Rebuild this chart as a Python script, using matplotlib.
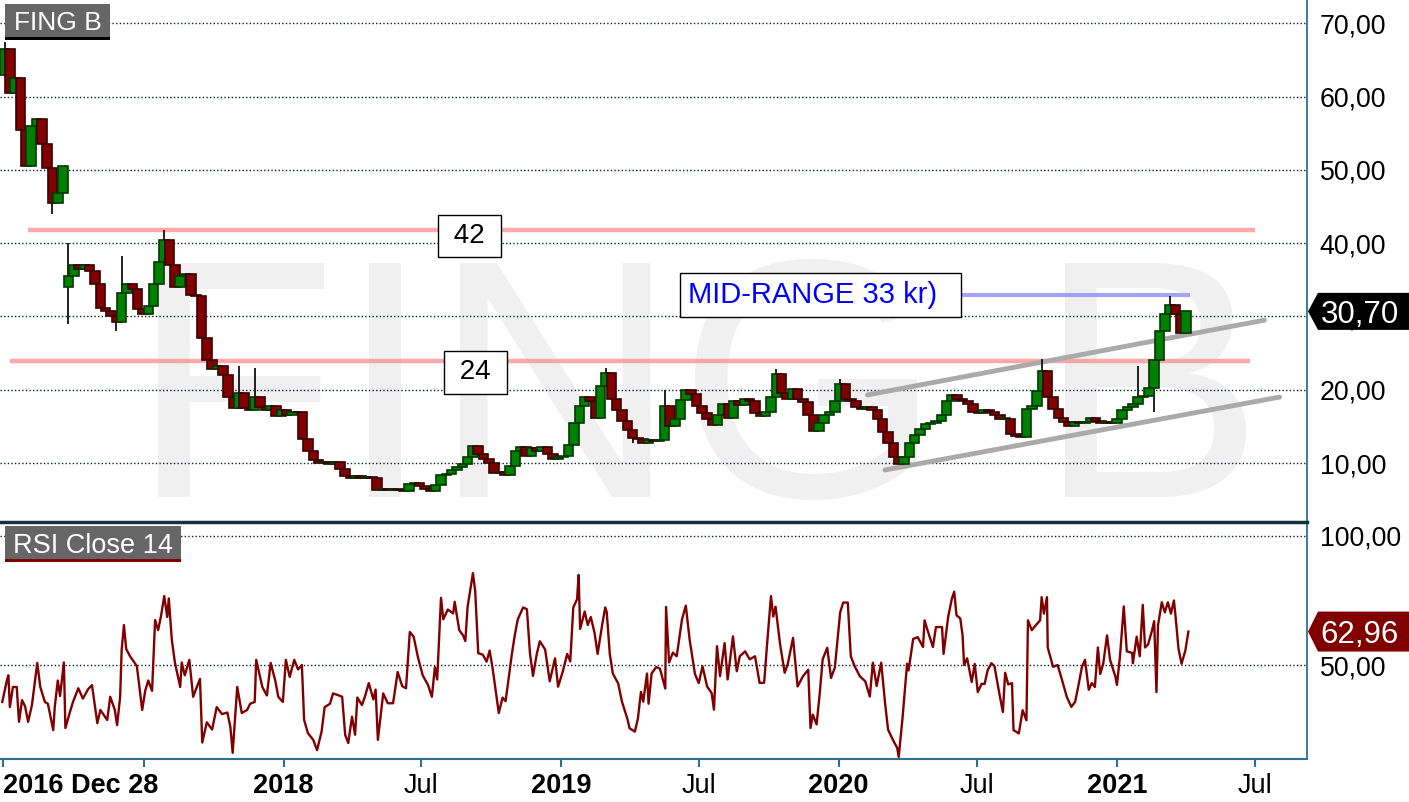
import numpy as np
import matplotlib
matplotlib.use('Agg')
import matplotlib.pyplot as plt
import matplotlib.dates as mdates
from matplotlib.patches import Polygon, Rectangle

plt.rcParams['font.family'] = ['Liberation Sans', 'DejaVu Sans']

# weekly closes (first candle 2016-12-30, then every 7 days)
first_week = '2016-12-30'
closes = [
    66.5, 60.5, 62.5, 55.5, 50.5, 56.0, 57.0, 53.5, 50.3, 45.5,
    46.8, 50.5, 35.5, 37.0, 36.5, 37.0, 36.2, 34.5, 31.2, 30.8,
    30.0, 29.2, 33.2, 34.5, 33.8, 31.0, 30.3, 31.5, 34.5, 37.5,
    40.5, 37.0, 34.0, 35.5, 35.8, 33.0, 32.8, 27.0, 24.0, 22.8,
    23.2, 22.0, 19.0, 17.5, 19.5, 17.5, 17.3, 19.0, 17.6, 17.2,
    17.8, 16.4, 17.3, 16.6, 17.0, 16.9, 13.3, 11.6, 10.4, 10.0,
    10.2, 9.9, 10.1, 9.2, 8.2, 8.0, 8.2, 8.0, 8.1, 7.9,
    6.3, 6.4, 6.3, 6.4, 6.3, 6.2, 7.2, 7.3, 6.9, 6.4,
    6.2, 7.0, 8.3, 8.5, 9.0, 9.4, 9.8, 10.8, 12.3, 11.2,
    10.6, 10.0, 8.6, 8.8, 8.3, 9.6, 11.6, 12.2, 11.0, 12.0,
    11.6, 12.2, 11.2, 10.6, 10.8, 11.0, 12.5, 15.5, 17.8, 19.0,
    18.5, 16.2, 20.5, 22.3, 18.8, 17.2, 15.8, 14.5, 13.4, 13.3,
    12.8, 13.1, 13.0, 13.1, 17.8, 15.0, 16.0, 18.6, 20.0, 19.4,
    17.8, 16.8, 16.0, 15.2, 16.5, 18.0, 16.2, 18.4, 17.9, 18.8,
    18.4, 16.8, 16.4, 17.0, 19.0, 22.2, 19.5, 18.7, 20.1, 18.8,
    18.3, 16.5, 14.4, 15.4, 16.5, 17.0, 18.5, 20.8, 18.8, 18.4,
    17.7, 17.4, 17.6, 17.3, 16.0, 14.2, 12.8, 10.8, 9.9, 10.8,
    12.8, 13.8, 14.6, 15.3, 15.5, 15.8, 16.5, 18.4, 19.3, 18.8,
    18.5, 18.0, 17.0, 16.8, 17.2, 17.0, 16.5, 16.0, 16.0, 14.0,
    13.7, 13.5, 17.4, 17.8, 19.8, 22.5, 19.0, 17.4, 16.2, 15.6,
    15.0, 15.6, 15.4, 15.6, 16.1, 15.7, 15.5, 15.6, 15.4, 16.0,
    17.3, 17.6, 18.0, 19.0, 19.2, 20.2, 24.0, 28.0, 30.4, 31.6,
    30.3, 27.7, 30.70,
]
# opens that do not follow the previous close (gaps)
gap_opens = {0: 63.0, 12: 34.0}
# long wicks
wick_highs = {0: 67.5, 12: 40.0, 22: 38.2, 30: 41.8, 44: 23.2, 47: 23.0, 113: 23.0,
              124: 20.0, 145: 22.8, 157: 21.5, 195: 24.2, 213: 23.3, 219: 32.8}
wick_lows = {9: 44.0, 12: 29.0, 21: 28.0, 118: 12.8, 216: 17.0}

# RSI(14), days after 2016-12-28
rsi_start = '2016-12-28'
rsi_days = [
    -1, 5, 7, 9, 13, 18, 21, 25, 29, 33,
    38, 45, 49, 55, 59, 66, 68, 72, 75, 80,
    82, 88, 92, 99, 105, 112, 117, 124, 128, 137,
    141, 147, 150, 154, 156, 159, 162, 167, 176, 183,
    187, 191, 196, 200, 204, 208, 212, 216, 218, 222,
    226, 233, 235, 239, 245, 250, 255, 259, 262, 268,
    275, 281, 288, 295, 299, 302, 308, 314, 321, 325,
    331, 333, 341, 347, 352, 358, 362, 368, 372, 377,
    383, 388, 393, 396, 401, 408, 413, 419, 423, 430,
    434, 441, 446, 450, 454, 459, 463, 466, 472, 476,
    481, 487, 490, 493, 500, 506, 513, 519, 525, 530,
    535, 540, 546, 552, 559, 564, 568, 571, 576, 579,
    585, 592, 594, 600, 605, 608, 611, 618, 621, 625,
    631, 636, 640, 644, 652, 657, 661, 669, 673, 677,
    684, 689, 693, 697, 702, 706, 713, 719, 726, 730,
    736, 742, 746, 750, 755, 757, 759, 765, 769, 773,
    778, 782, 788, 792, 794, 798, 802, 809, 814, 821,
    824, 831, 835, 839, 842, 847, 849, 853, 859, 864,
    871, 872, 876, 881, 886, 893, 898, 903, 910, 915,
    920, 926, 932, 935, 939, 943, 949, 953, 960, 965,
    969, 976, 982, 989, 995, 1001, 1005, 1010, 1013, 1016,
    1022, 1028, 1032, 1039, 1045, 1052, 1059, 1062, 1065, 1070,
    1074, 1078, 1084, 1089, 1094, 1101, 1105, 1111, 1115, 1120,
    1127, 1134, 1140, 1144, 1149, 1155, 1160, 1164, 1170, 1176,
    1178, 1183, 1189, 1191, 1197, 1203, 1210, 1212, 1216, 1223,
    1227, 1235, 1237, 1243, 1248, 1251, 1254, 1259, 1262, 1264,
    1268, 1274, 1278, 1282, 1287, 1291, 1295, 1300, 1304, 1310,
    1315, 1318, 1322, 1327, 1329, 1336, 1341, 1346, 1348, 1353,
    1360, 1364, 1366, 1369, 1373, 1374, 1381, 1387, 1393, 1399,
    1405, 1410, 1414, 1419, 1423, 1428, 1432, 1436, 1440, 1443,
    1447, 1452, 1456, 1463, 1465, 1469, 1474, 1478, 1485, 1486,
    1491, 1495, 1499, 1502, 1506, 1511, 1514, 1517, 1519, 1524,
    1528, 1532, 1536, 1540, 1542, 1546, 1550, 1555, 1559,
]
rsi_vals = [
    35.7, 44, 46, 33.7, 41.5, 41.5, 28, 36.4, 34, 28,
    34.5, 50.8, 41.5, 35.7, 35, 24.8, 33.7, 44, 38, 51,
    25.6, 31.8, 35.7, 41, 37, 40.7, 42.2, 27.5, 32.6, 28.7,
    37.7, 32.6, 26.7, 37.7, 55.8, 65.5, 56.2, 53.4, 49.6, 32.6,
    40, 44, 40, 67.4, 63.5, 69.4, 76.7, 68.6, 75.8, 59.7,
    51, 41.5, 51, 46, 52, 37.7, 41.5, 44.6, 20, 27.8,
    25, 33.7, 31, 31.6, 26, 16, 41.5, 31.4, 32.6, 35,
    35.7, 52, 41.5, 38.2, 50.8, 44, 37.7, 35.7, 52, 45.4,
    52, 48.3, 50, 28.7, 23.6, 21, 17, 24.3, 33.7, 35,
    39, 38.3, 37.7, 22.9, 19.8, 30, 23, 37.4, 34.5, 37.8,
    43, 36.7, 40.5, 21, 39, 35.2, 35.2, 47.3, 41.8, 41,
    62.8, 61, 52.6, 46, 42.2, 37.7, 49.2, 44.4, 76, 67.7,
    71.5, 70, 74.5, 63.5, 61.5, 59.3, 72.5, 85.6, 78.6, 54.6,
    54, 51.3, 55.6, 48.5, 31.4, 37.4, 36, 53.8, 61.5, 67.7,
    72.3, 71.6, 54.6, 45.8, 54.3, 59.2, 56, 43.7, 52.6, 41.6,
    47.3, 54.3, 51.4, 72.3, 75.5, 84.9, 64, 70.7, 65.5, 68.6,
    62.4, 54.3, 65.6, 72.3, 70.5, 54.3, 46.7, 42.9, 35.8, 29.3,
    25.5, 24.2, 29.3, 39.6, 35.8, 46.7, 35, 46.7, 49.2, 48.6,
    40.9, 72.5, 51, 54.8, 53.4, 67.7, 73, 59.9, 46.5, 43,
    49.5, 41.7, 39.1, 32.7, 57.3, 45.7, 58.5, 44.4, 61.1, 47.6,
    53.4, 55.3, 52.2, 53.4, 43.1, 43.1, 58.5, 76.7, 68.8, 72.6,
    58, 47, 50.3, 60.5, 41.7, 45.6, 48.2, 25.6, 30.8, 27,
    38.6, 52.2, 56.7, 45, 49, 70.4, 74.2, 74.2, 53.4, 49.6,
    45.6, 43.7, 37.8, 50.9, 41.9, 50.9, 35.4, 25, 21.2, 17.9,
    14.4, 29.4, 50.5, 47.9, 60.1, 60.8, 57, 67.3, 63.4, 57,
    64.7, 64.7, 54.3, 68.6, 75.8, 78.4, 69.3, 68, 61.5, 50,
    52.6, 43.4, 50.4, 39.5, 42.7, 42.7, 48, 50.7, 49.5, 39.5,
    31.8, 47, 42.5, 43, 24.8, 23.5, 32.5, 28.6, 67.3, 63.5,
    66, 67.3, 76.3, 69.9, 76.3, 56.8, 49.3, 50, 44, 37.7,
    33.8, 35.7, 41.5, 49.3, 52, 40.4, 43, 41.5, 56.8, 46.5,
    50.5, 61.5, 52, 45.5, 42.3, 53.3, 72.7, 55.3, 54.7, 50.7,
    61, 53.4, 73.3, 56.8, 58, 63.2, 67, 39.5, 65.3, 74.3,
    70.4, 74.3, 69.9, 75, 69.2, 56.3, 50.5, 55.6, 62.96,
]

# drawn levels and channel
level_prices = [41.8, 23.9]
level_starts = ['2017-01-30', '2017-01-06']
level_ends = ['2021-07-01', '2021-06-25']
level_labels = ['42', '24']
level_label_at = [('2018-09-02', 41.0), ('2018-09-10', 22.4)]
mid_price = 32.9
mid_span = ['2020-06-11', '2021-04-07']
mid_label = 'MID-RANGE 33 kr)'
mid_label_at = ('2019-12-08', 32.9)
chan_upper = [('2020-02-08', 19.3), ('2021-07-14', 29.5)]
chan_lower = [('2020-03-02', 9.05), ('2021-08-03', 19.0)]

price_ticks = [10, 20, 30, 40, 50, 60, 70]
rsi_ticks = [50, 100]
x_tick_dates = ['2016-12-28', '2017-07-01', '2018-01-01', '2018-07-01', '2019-01-01',
                '2019-07-01', '2020-01-01', '2020-07-01', '2021-01-01', '2021-07-01']
x_tick_labels = ['2016 Dec 28', '', '2018', 'Jul', '2019', 'Jul', '2020', 'Jul', '2021', 'Jul']


def num(d):
    return mdates.date2num(np.datetime64(d))


def fmt(v):
    return f'{v:.2f}'.replace('.', ',')


c = np.array(closes)
o = np.r_[c[0], c[:-1]]
for k, v in gap_opens.items():
    o[k] = v
hi = np.maximum(o, c)
lo = np.minimum(o, c)
for k, v in wick_highs.items():
    hi[k] = v
for k, v in wick_lows.items():
    lo[k] = v
wk = np.datetime64(first_week) + (7 * np.arange(len(c))).astype('timedelta64[D]')
xd = mdates.date2num(wk)
rx = mdates.date2num(np.datetime64(rsi_start) + np.array(rsi_days).astype('timedelta64[D]'))

W, H = 1409, 802
fig = plt.figure(figsize=(W / 100, H / 100), dpi=100)
ax = fig.add_axes([0, 280 / H, 1307 / W, 522 / H])
ax2 = fig.add_axes([0, 43 / H, 1307 / W, 237 / H])

xlim = (num('2016-12-24'), num('2021-09-08'))
frame_col = '#2f6f8f'

# ---- price panel
ax.text(0.533, 0.048, 'FING B', transform=ax.transAxes, ha='center', va='baseline',
        fontsize=245, color='#f0f0f0', zorder=0)
ax.grid(axis='y', color='#0d1f2d', linestyle=(0, (1, 1.6)), lw=1, zorder=1)

for p, s, e in zip(level_prices, level_starts, level_ends):
    ax.hlines(p, num(s), num(e), color='#ff9a9a', lw=3.2, alpha=0.85, zorder=2)
ax.hlines(mid_price, num(mid_span[0]), num(mid_span[1]), color='#9a9aff', lw=3.0, alpha=0.9, zorder=2)
for ch in (chan_upper, chan_lower):
    ax.plot([num(d) for d, _ in ch], [v for _, v in ch], color='#aaaaaa', lw=3.5,
            solid_capstyle='round', zorder=2)

up = c >= o
body_col = np.where(up, '#008000', '#800000')
edge_col = np.where(up, '#003800', '#3a0000')
ax.vlines(xd, lo, hi, color='#111111', lw=1.3, zorder=3)
ax.bar(xd, np.maximum(np.abs(c - o), 0.12), bottom=np.minimum(o, c), width=12.5,
       color=body_col, edgecolor=edge_col, lw=1.2, zorder=4)

for txt, (d, v) in zip(level_labels, level_label_at):
    ax.text(num(d), v, ' ' + txt + ' ', fontsize=20, ha='center', va='center', zorder=6,
            bbox=dict(boxstyle='square,pad=0.3', fc='white', ec='black', lw=1))
ax.text(num(mid_label_at[0]), mid_label_at[1], mid_label + '  ', fontsize=21, color='#0000ff',
        ha='center', va='center', zorder=6,
        bbox=dict(boxstyle='square,pad=0.28', fc='white', ec='black', lw=1))

ax.set_xlim(xlim)
ax.set_ylim(1.95, 73.2)
ax.set_yticks(price_ticks)
ax.set_yticklabels([fmt(v) for v in price_ticks])
ax.yaxis.tick_right()
ax.tick_params(axis='y', length=0, pad=9, labelsize=19.3)
ax.tick_params(axis='x', bottom=False, labelbottom=False)
for s in ('left', 'top', 'bottom'):
    ax.spines[s].set_visible(False)
ax.spines['right'].set_color(frame_col)
ax.spines['right'].set_linewidth(1.3)

# ---- RSI panel
ax2.grid(axis='y', color='#0d1f2d', linestyle=(0, (1, 1.6)), lw=1, zorder=1)
ax2.plot(rx, rsi_vals, color='#800000', lw=1.7, zorder=3)
ax2.set_xlim(xlim)
ax2.set_ylim(13.6, 105.4)
ax2.set_yticks(rsi_ticks)
ax2.set_yticklabels([fmt(v) for v in rsi_ticks])
ax2.yaxis.tick_right()
ax2.tick_params(axis='y', length=0, pad=9, labelsize=19.3)
ax2.set_xticks([num(d) for d in x_tick_dates])
ax2.set_xticklabels(x_tick_labels)
ax2.tick_params(axis='x', direction='out', length=6, width=1.5, color=frame_col,
                labelsize=19.5, pad=4)
for lab in ax2.get_xticklabels():
    if lab.get_text() != 'Jul':
        lab.set_fontweight('bold')
ax2.get_xticklabels()[0].set_ha('left')
ax2.spines['left'].set_visible(False)
ax2.spines['right'].set_color(frame_col)
ax2.spines['right'].set_linewidth(1.3)
ax2.spines['bottom'].set_color(frame_col)
ax2.spines['bottom'].set_linewidth(1.5)
ax2.spines['top'].set_color('#17323f')
ax2.spines['top'].set_linewidth(2.5)


# ---- title boxes and last-value tags (pixel placement)
def px_rect(x0, y0, x1, y1, color):
    fig.add_artist(Rectangle((x0 / W, 1 - y1 / H), (x1 - x0) / W, (y1 - y0) / H,
                             transform=fig.transFigure, fc=color, ec='none', zorder=10))


px_rect(5, 4, 110, 37, '#666666')
px_rect(5, 37, 110, 40, '#000000')
fig.text(57.5 / W, 1 - 21 / H, 'FING B', color='white', fontsize=19, ha='center',
         va='center_baseline', zorder=11)
px_rect(5, 526, 181, 559, '#666666')
px_rect(5, 559, 181, 562, '#800000')
fig.text(93 / W, 1 - 543 / H, 'RSI Close 14', color='white', fontsize=19.5, ha='center',
         va='center_baseline', zorder=11)


def tag(axis, value, color, half):
    yd = axis.transData.transform((xlim[0], value))[1]
    pts = [(1308, yd), (1318, yd + half), (1409, yd + half), (1409, yd - half), (1318, yd - half)]
    fig.add_artist(Polygon([(x / W, y / H) for x, y in pts], closed=True,
                           transform=fig.transFigure, fc=color, ec='none', zorder=10))
    fig.text(1360 / W, yd / H, fmt(value), color='white', fontsize=22.5, ha='center',
             va='center_baseline', zorder=11)


tag(ax, closes[-1], '#000000', 18.5)
tag(ax2, rsi_vals[-1], '#800000', 20)

fig.savefig('out.png', dpi=100)
